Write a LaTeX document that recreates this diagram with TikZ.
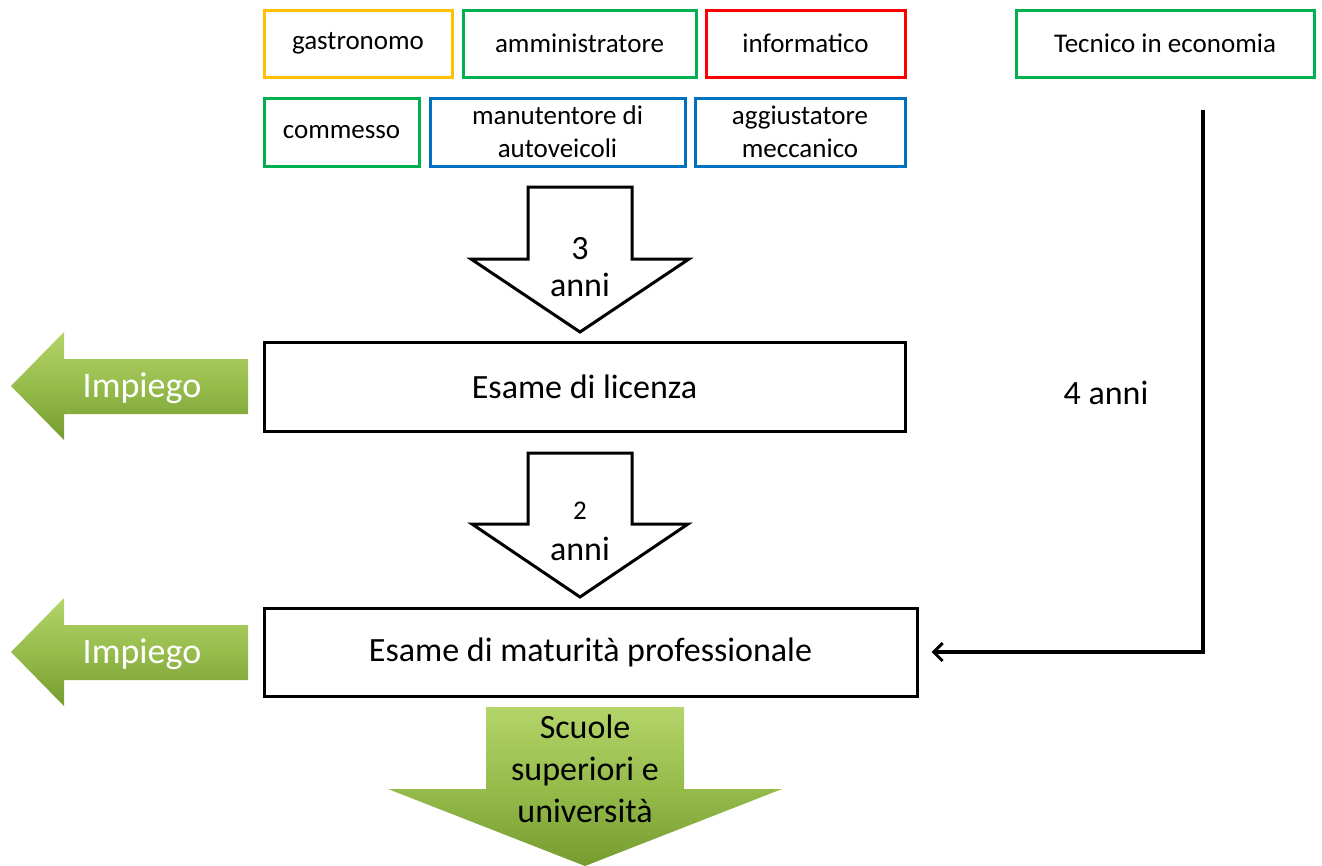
\documentclass[tikz,border=0pt]{standalone}
\usepackage{fontspec}
\setmainfont{Carlito}
\usetikzlibrary{arrows.meta}
\definecolor{cyel}{RGB}{255,192,0}
\definecolor{cgrn}{RGB}{0,176,80}
\definecolor{cred}{RGB}{255,0,0}
\definecolor{cblu}{RGB}{0,112,192}
\definecolor{gtop}{RGB}{180,212,105}
\definecolor{gmid}{RGB}{150,188,76}
\definecolor{gbot}{RGB}{118,156,48}
\begin{document}
\begin{tikzpicture}[x=1pt,y=-1pt,
  job/.style={draw=#1,line width=3pt,inner sep=0pt,align=center,
    font=\fontsize{27}{33}\selectfont},
  exam/.style={draw=black,line width=3pt,inner sep=0pt,align=center,
    font=\fontsize{34}{40}\selectfont},
  blockarrow/.style={draw=black,fill=white,line width=3pt,line join=miter},
  greenarrow/.style={top color=gtop,bottom color=gbot,middle color=gmid},
  lbl/.style={inner sep=0pt,align=center,font=\fontsize{34}{36}\selectfont},
  wlbl/.style={inner sep=0pt,text=white,font=\fontsize{36}{40}\selectfont},
  conn/.style={line width=3.2pt,-{Straight Barb[length=9pt,width=18pt,line width=3pt]}}
]
\useasboundingbox (0,0) rectangle (1322,865);

% job boxes
\node[job=cyel,minimum width=188pt,minimum height=67pt] (gas) at (358,43.5) {gastronomo};
\node[job=cgrn,minimum width=233pt,minimum height=67pt] (amm) at (579.5,43.5) {amministratore};
\node[job=cred,minimum width=199pt,minimum height=67pt] (inf) at (805.5,43.5) {informatico};
\node[job=cgrn,minimum width=298pt,minimum height=67pt] (tec) at (1165,43.5) {Tecnico in economia};
\node[job=cgrn,minimum width=155pt,minimum height=68pt] (com) at (341.5,132) {commesso};
\node[job=cblu,minimum width=255pt,minimum height=68pt] (man) at (557.5,132) {manutentore di\\autoveicoli};
\node[job=cblu,minimum width=210pt,minimum height=68pt] (agg) at (800,132) {aggiustatore\\meccanico};

% exam boxes
\node[exam,minimum width=641pt,minimum height=89pt] (lic) at (584.5,386.5) {Esame di licenza};
\node[exam,minimum width=653pt,minimum height=88pt] (mat) at (590.5,652) {Esame di maturità professionale};

% white block arrows
\draw[blockarrow] (528,187) -- (632,187) -- (632,259) -- (689,259) -- (580,332) -- (471,259) -- (528,259) -- cycle;
\node[lbl] (a3) at (580,249) {3};
\node[lbl] (a3b) at (580,285) {anni};
\draw[blockarrow] (528,453) -- (632,453) -- (632,524) -- (688,524) -- (580,597) -- (472,524) -- (528,524) -- cycle;
\node[lbl,font=\fontsize{27}{28}\selectfont] (a2) at (580,511) {2};
\node[lbl] (a2b) at (580,549) {anni};

% green arrows left
\shade[greenarrow] (11,386) -- (64,332) -- (64,359) -- (248,359) -- (248,414) -- (64,414) -- (64,440) -- cycle;
\node[wlbl] (imp1) at (142,388) {Impiego};
\shade[greenarrow] (11,652) -- (64,598) -- (64,625) -- (248,625) -- (248,680) -- (64,680) -- (64,706) -- cycle;
\node[wlbl] (imp2) at (142,654) {Impiego};

% green arrow down
\shade[greenarrow] (486,707) -- (684,707) -- (684,789) -- (782,789) -- (585,866) -- (388,789) -- (486,789) -- cycle;
\node[lbl,font=\fontsize{34}{42}\selectfont] (scu) at (585,769) {Scuole\\superiori e\\università};

% right connector
\coordinate (start) at (1203,110);
\draw[conn] (start) |- ([xshift=13pt]mat.east);
\node[lbl] (q4) at (1106,393) {4 anni};
\end{tikzpicture}
\end{document}
